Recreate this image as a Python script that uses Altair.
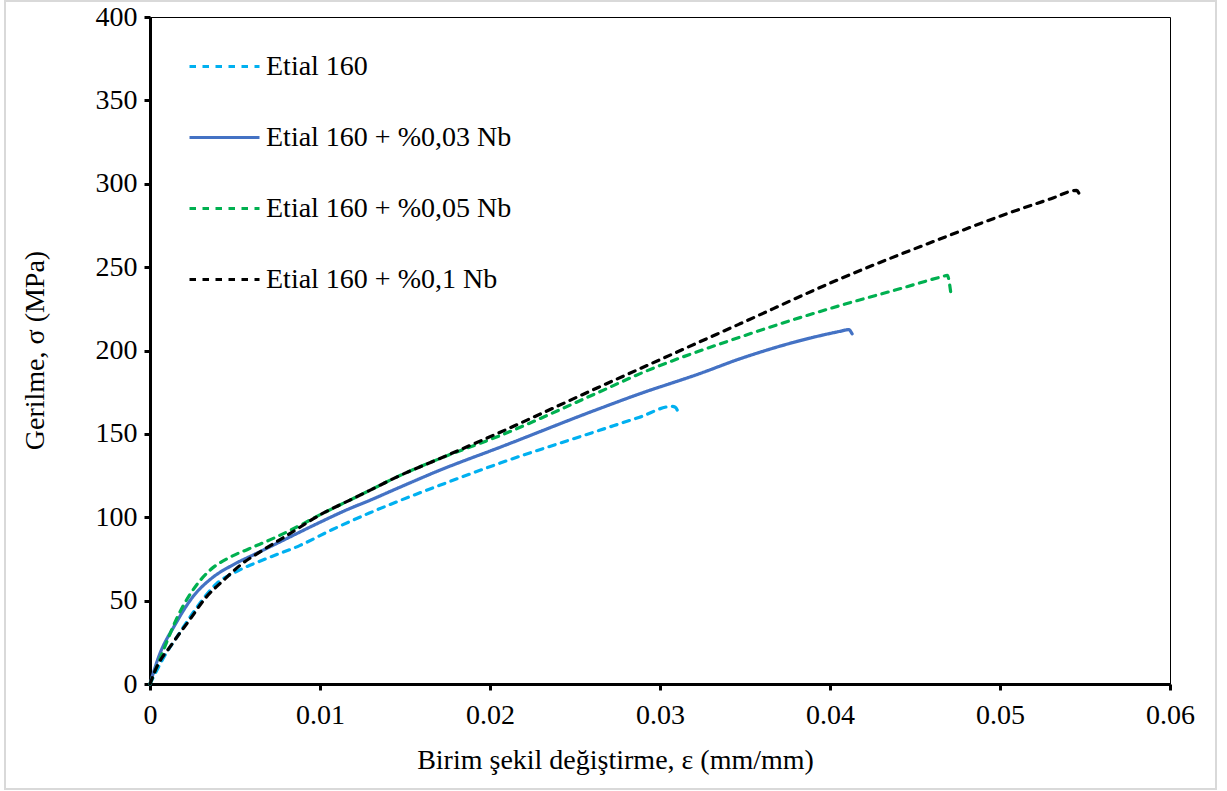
import altair as alt
import pandas as pd

series_names = [
    "Etial 160",
    "Etial 160 + %0,03 Nb",
    "Etial 160 + %0,05 Nb",
    "Etial 160 + %0,1 Nb",
]
series_colors = ["#00B0F0", "#4472C4", "#00B050", "#000000"]

eps_e160 = [0, 0.0007, 0.0017, 0.0029, 0.0039, 0.0052, 0.0068, 0.0088, 0.0107, 0.0129,
            0.0147, 0.017, 0.0206, 0.0264, 0.0288, 0.0307, 0.0309, 0.0311]
sig_e160 = [0, 14, 30, 48, 60, 68, 75, 83, 92.5, 102.5,
            110, 119, 132.5, 152, 160, 166.5, 166, 162]

eps_nb003 = [0, 0.0005, 0.0015, 0.0025, 0.0037, 0.0048, 0.0062, 0.0078, 0.0098, 0.0117,
             0.0129, 0.0147, 0.017, 0.0206, 0.0264, 0.0288, 0.0323, 0.0347, 0.0406,
             0.0411, 0.0413]
sig_nb003 = [0, 16, 36, 52, 64, 71, 78, 86, 96, 105,
             110, 118, 128, 142, 165, 174, 186, 195, 211.5,
             212.5, 210]

eps_nb005 = [0, 0.0007, 0.0017, 0.0025, 0.0035, 0.0047, 0.0058, 0.0074, 0.0088, 0.0101,
             0.0117, 0.0129, 0.0147, 0.017, 0.0206, 0.0264, 0.0288, 0.0347, 0.0406,
             0.0441, 0.0465, 0.0469, 0.0471]
sig_nb005 = [0, 18, 42, 56, 68, 76, 81, 88, 95, 102,
             110, 116, 125, 135, 149, 175, 186, 208, 227,
             237, 244, 245, 235]

eps_nb01 = [0, 0.0003, 0.0013, 0.0023, 0.0033, 0.0043, 0.0054, 0.0066, 0.0082, 0.0101,
            0.0117, 0.0129, 0.0147, 0.017, 0.0206, 0.0264, 0.0288, 0.0347, 0.0406,
            0.0465, 0.0504, 0.053, 0.0545, 0.0547]
sig_nb01 = [0, 8, 24, 38, 52, 62, 72, 80, 90, 102,
            110, 116, 125, 135, 151, 178, 189, 216, 243,
            267, 282, 291, 296, 293]

x_ticks = [0, 0.01, 0.02, 0.03, 0.04, 0.05, 0.06]
y_ticks = [0, 50, 100, 150, 200, 250, 300, 350, 400]

rows = []
for name, xs, ys in zip(series_names,
                        [eps_e160, eps_nb003, eps_nb005, eps_nb01],
                        [sig_e160, sig_nb003, sig_nb005, sig_nb01]):
    for i, (a, b) in enumerate(zip(xs, ys)):
        rows.append({"series": name, "eps": a, "sigma": b, "idx": i})
df = pd.DataFrame(rows)

FONT = "Liberation Serif"
dash = [6.5, 6.5]

lines = alt.Chart(df).mark_line(strokeWidth=3.2, strokeCap="round", strokeJoin="round",
                                interpolate="monotone").encode(
    x=alt.X("eps:Q",
            scale=alt.Scale(domain=[0, 0.06], nice=False, zero=True),
            axis=alt.Axis(values=x_ticks, format="~g", title="Birim şekil değiştirme, ε (mm/mm)",
                          titleX=465, titleY=62, titleBaseline="top",
                          labelPadding=11, labelFlush=False)),
    y=alt.Y("sigma:Q",
            scale=alt.Scale(domain=[0, 400], nice=False),
            axis=alt.Axis(values=y_ticks, title="Gerilme, σ (MPa)",
                          titleX=-115, titleY=333, titleBaseline="middle",
                          labelPadding=7, labelFlush=False)),
    color=alt.Color("series:N",
                    scale=alt.Scale(domain=series_names, range=series_colors),
                    legend=alt.Legend(title=None, orient="none", legendX=38, legendY=13,
                                      symbolType="stroke", symbolSize=4900,
                                      symbolStrokeWidth=3, labelFont=FONT,
                                      labelFontSize=28, labelColor="black",
                                      labelOffset=5, rowPadding=20,
                                      labelLimit=500)),
    strokeDash=alt.StrokeDash("series:N",
                              scale=alt.Scale(domain=series_names,
                                              range=[dash, [1, 0], dash, dash]),
                              legend=None),
    order=alt.Order("idx:Q"),
)

border = alt.Chart(pd.DataFrame({"k": [0]})).mark_rect(
    fill=None, stroke="#D9D9D9", strokeWidth=2
).encode(
    x=alt.value(-145), x2=alt.value(1066), y=alt.value(-16), y2=alt.value(772)
)

chart = alt.layer(border, lines).properties(
    width=1020, height=667,
    autosize=alt.AutoSizeParams(type="none"),
    padding={"left": 150, "top": 17, "right": 57, "bottom": 107},
    background="white",
).configure_view(
    stroke="black", strokeWidth=1
).configure_axis(
    domainColor="black", domainWidth=3, tickColor="black", tickWidth=3, tickSize=6,
    grid=False, labelFont=FONT, labelFontSize=28, labelColor="black",
    titleFont=FONT, titleFontSize=28, titleFontWeight="normal", titleColor="black",
    labelAngle=0,
)

chart.save("out.html", embed_options={"renderer": "svg", "actions": False})
